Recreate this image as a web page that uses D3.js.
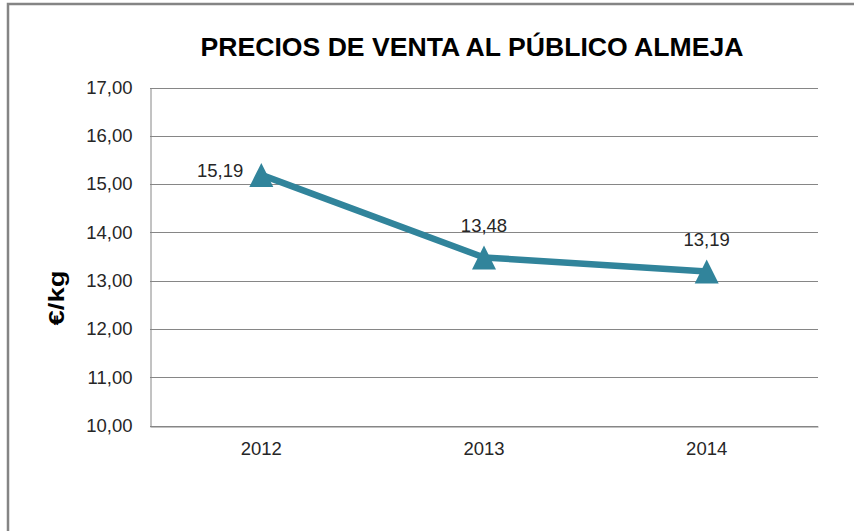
<!DOCTYPE html>
<html>
<head>
<meta charset="utf-8">
<script src="https://cdn.jsdelivr.net/npm/d3@7"></script>
<style>
  body { margin: 0; background: #fff; }
  text { font-family: 'Liberation Sans', Arial, sans-serif; }
</style>
</head>
<body>
<div id="chart"></div>
<script>
// Data
const years = ['2012', '2013', '2014'];
const prices = [15.19, 13.48, 13.19];
const priceLabels = ['15,19', '13,48', '13,19'];
const yTicks = [10, 11, 12, 13, 14, 15, 16, 17];

const width = 854;
const height = 531;

// Plot area
const plotLeft = 150;
const plotRight = 818;
const plotTop = 87.5;
const plotBottom = 425.5;

const lineColor = '#31849B';

const svg = d3
  .select('#chart')
  .append('svg')
  .attr('width', width)
  .attr('height', height);

// Outer frame (runs off right and bottom)
svg
  .append('path')
  .attr('d', 'M8,' + height + ' L8,4 L' + width + ',4')
  .attr('fill', 'none')
  .attr('stroke', '#858585')
  .attr('stroke-width', 2.5);

// Title
svg
  .append('text')
  .attr('x', 472)
  .attr('y', 56)
  .attr('text-anchor', 'middle')
  .style('font-size', '25.5px')
  .style('font-weight', 'bold')
  .style('fill', '#000')
  .attr('textLength', 543)
  .attr('lengthAdjust', 'spacingAndGlyphs')
  .text('PRECIOS DE VENTA AL PÚBLICO ALMEJA');

// Scales
const x = d3
  .scaleBand()
  .domain(years)
  .range([plotLeft, plotRight]);

const y = d3
  .scaleLinear()
  .domain([10, 17])
  .range([plotBottom, plotTop]);

// Gridlines
svg
  .append('g')
  .selectAll('line')
  .data(yTicks)
  .enter()
  .append('line')
  .attr('x1', plotLeft)
  .attr('x2', plotRight)
  .attr('y1', (d) => Math.round(y(d)) + 0.5)
  .attr('y2', (d) => Math.round(y(d)) + 0.5)
  .attr('stroke', '#868686')
  .attr('stroke-width', 1);

// Y axis
const yAxis = d3
  .axisLeft(y)
  .tickValues(yTicks)
  .tickSize(0)
  .tickPadding(18)
  .tickFormat((d) => d3.format('.2f')(d).replace('.', ','));

const yG = svg
  .append('g')
  .attr('transform', 'translate(' + (plotLeft + 0.5) + ',0)')
  .call(yAxis);
yG.select('.domain').attr('stroke', '#868686');
yG
  .selectAll('text')
  .style('font-size', '18.5px')
  .style('fill', '#262626')
  .style('font-family', "'Liberation Sans', Arial, sans-serif");

// X axis
const xAxis = d3.axisBottom(x).tickSize(0).tickPadding(15);
const xG = svg
  .append('g')
  .attr('transform', 'translate(0,' + (Math.round(plotBottom) + 0.5) + ')')
  .call(xAxis);
xG.select('.domain').attr('stroke', '#868686');
xG
  .selectAll('text')
  .style('font-size', '18.5px')
  .style('fill', '#262626')
  .style('font-family', "'Liberation Sans', Arial, sans-serif");

// Y axis title
svg
  .append('text')
  .attr('transform', 'translate(64,298) rotate(-90)')
  .attr('text-anchor', 'middle')
  .style('font-size', '22px')
  .style('font-weight', 'bold')
  .style('fill', '#000')
  .attr('textLength', 55)
  .attr('lengthAdjust', 'spacingAndGlyphs')
  .text('€/kg');

const cx = (i) => x(years[i]) + x.bandwidth() / 2;

// Line
const line = d3
  .line()
  .x((d, i) => cx(i))
  .y((d) => y(d));

svg
  .append('path')
  .datum(prices)
  .attr('d', line)
  .attr('fill', 'none')
  .attr('stroke', lineColor)
  .attr('stroke-width', 6.5)
  .attr('stroke-linejoin', 'round');

// Triangle markers
const tri = 12;
svg
  .append('g')
  .selectAll('path')
  .data(prices)
  .enter()
  .append('path')
  .attr('d', (d, i) => {
    const px = cx(i);
    const py = y(d);
    return (
      'M' + px + ',' + (py - tri) +
      ' L' + (px + tri) + ',' + (py + tri) +
      ' L' + (px - tri) + ',' + (py + tri) + 'Z'
    );
  })
  .attr('fill', lineColor);

// Data labels: first one on the left, others above
svg
  .append('g')
  .selectAll('text')
  .data(prices)
  .enter()
  .append('text')
  .attr('x', (d, i) => (i === 0 ? cx(i) - 18 : cx(i)))
  .attr('y', (d, i) => (i === 0 ? y(d) + 2 : y(d) - 25))
  .attr('text-anchor', (d, i) => (i === 0 ? 'end' : 'middle'))
  .style('font-size', '18.5px')
  .style('fill', '#262626')
  .text((d, i) => priceLabels[i]);
</script>
</body>
</html>
